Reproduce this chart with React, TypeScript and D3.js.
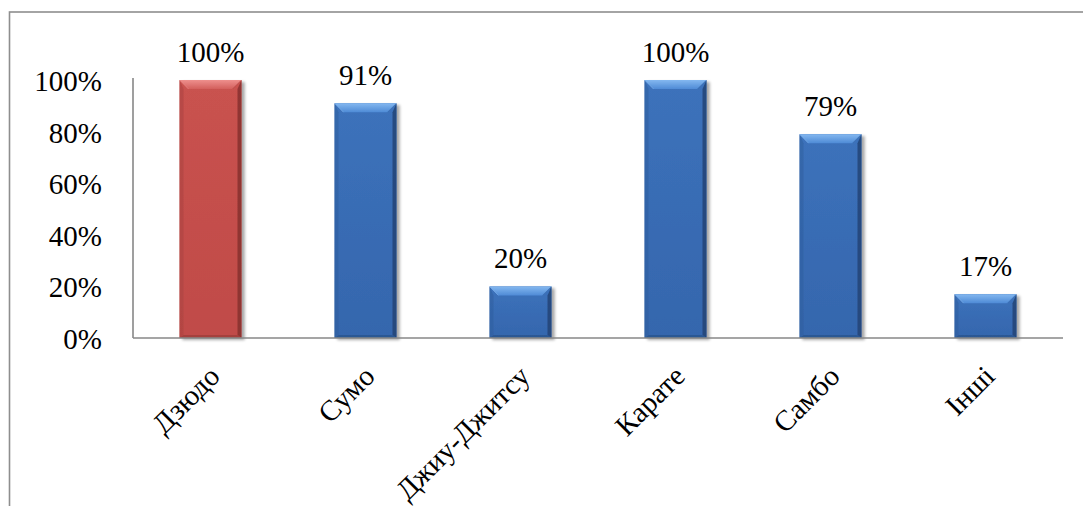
import React from "react";
import * as d3 from "d3";

const categories = ["Дзюдо", "Сумо", "Джиу-Джитсу", "Карате", "Самбо", "Інші"];
const values = [100, 91, 20, 100, 79, 17];
const highlighted = ["Дзюдо"];
const yTicks = [0, 20, 40, 60, 80, 100];

const W = 1083;
const H = 506;
const plot = { left: 133, right: 1063, top: 80, bottom: 338 };
const FONT = "'Liberation Serif', 'Times New Roman', serif";
const FS = 29;

const palettes = {
  blue: { face: "#3c72bb", faceDark: "#3566ad", topA: "#84b8f0", topB: "#4f8bd6", left: "#2f5f9f", right: "#203f6e", bottom: "#2a5289" },
  red: { face: "#c9524f", faceDark: "#c04b48", topA: "#ee908d", topB: "#d35f5c", left: "#a94240", right: "#7e2d2b", bottom: "#9a3a38" },
};

function Bar({ x0, x1, top, bottom, pal, id }) {
  const b = Math.min(9, (bottom - top) / 2);
  const s = 4;
  const bb = 3;
  return (
    <g filter="url(#barShadow)">
      <rect x={x0} y={top} width={x1 - x0} height={bottom - top} fill={`url(#face-${id})`} />
      <polygon points={`${x0},${top} ${x0 + s},${top + b} ${x0 + s},${bottom - bb} ${x0},${bottom}`} fill={pal.left} opacity={0.55} />
      <polygon points={`${x1},${top} ${x1 - s},${top + b} ${x1 - s},${bottom - bb} ${x1},${bottom}`} fill={pal.right} opacity={0.75} />
      <polygon points={`${x0},${bottom} ${x0 + s},${bottom - bb} ${x1 - s},${bottom - bb} ${x1},${bottom}`} fill={pal.bottom} opacity={0.7} />
      <polygon points={`${x0},${top} ${x1},${top} ${x1 - b},${top + b} ${x0 + b},${top + b}`} fill={`url(#top-${id})`} />
      <line x1={x0 + 0.5} y1={top + 0.5} x2={x0 + b} y2={top + b} stroke={pal.topA} strokeOpacity={0.6} />
      <line x1={x1 - 0.5} y1={top + 0.5} x2={x1 - b} y2={top + b} stroke={pal.left} strokeOpacity={0.5} />
    </g>
  );
}

export default function App() {
  const x = d3.scaleBand().domain(categories).range([plot.left, plot.right]).paddingInner(0.6).paddingOuter(0.3);
  const y = d3.scaleLinear().domain([0, 100]).range([plot.bottom, plot.top]);
  const fmt = (v) => `${v}%`;

  return (
    <svg width={W} height={H} style={{ position: "absolute", left: 0, top: 0, background: "#fff", fontFamily: FONT }}>
      <defs>
        <filter id="barShadow" x="-20%" y="-10%" width="150%" height="130%">
          <feGaussianBlur in="SourceAlpha" stdDeviation="1.8" />
          <feOffset dx="2.5" dy="1.5" result="off" />
          <feComponentTransfer>
            <feFuncA type="linear" slope="0.35" />
          </feComponentTransfer>
          <feMerge>
            <feMergeNode />
            <feMergeNode in="SourceGraphic" />
          </feMerge>
        </filter>
        {categories.map((c, i) => {
          const pal = highlighted.includes(c) ? palettes.red : palettes.blue;
          return (
            <React.Fragment key={c}>
              <linearGradient id={`face-${i}`} x1="0" y1="0" x2="0" y2="1">
                <stop offset="0" stopColor={pal.face} />
                <stop offset="1" stopColor={pal.faceDark} />
              </linearGradient>
              <linearGradient id={`top-${i}`} x1="0" y1="0" x2="0" y2="1">
                <stop offset="0" stopColor={pal.topA} />
                <stop offset="1" stopColor={pal.topB} />
              </linearGradient>
            </React.Fragment>
          );
        })}
      </defs>

      {/* chart area frame */}
      <rect x={9.5} y={12} width={W + 20} height={H + 20} fill="none" stroke="#8e8e8e" strokeWidth={1.6} />

      {/* bars */}
      {categories.map((c, i) => {
        const pal = highlighted.includes(c) ? palettes.red : palettes.blue;
        const x0 = x(c);
        return (
          <Bar key={c} id={i} x0={x0} x1={x0 + x.bandwidth()} top={y(values[i])} bottom={y(0)} pal={pal} />
        );
      })}

      {/* axes */}
      <line x1={plot.left} y1={plot.top - 2} x2={plot.left} y2={plot.bottom} stroke="#878787" strokeWidth={1.6} />
      <line x1={plot.left} y1={plot.bottom} x2={plot.right} y2={plot.bottom} stroke="#878787" strokeWidth={1.6} />

      {/* y tick labels */}
      {yTicks.map((t) => (
        <text key={t} x={plot.left - 31} y={y(t) + 11} textAnchor="end" fontSize={FS} fill="#000">
          {fmt(t)}
        </text>
      ))}

      {/* value labels */}
      {categories.map((c, i) => (
        <text key={c} x={x(c) + x.bandwidth() / 2} y={y(values[i]) - 18} textAnchor="middle" fontSize={FS} fill="#000">
          {fmt(values[i])}
        </text>
      ))}

      {/* category labels */}
      {categories.map((c) => {
        const cx = x(c) + x.bandwidth() / 2;
        return (
          <text key={c} transform={`translate(${cx + 11},${plot.bottom + 40}) rotate(-45)`} textAnchor="end" fontSize={FS} fill="#000">
            {c}
          </text>
        );
      })}
    </svg>
  );
}
